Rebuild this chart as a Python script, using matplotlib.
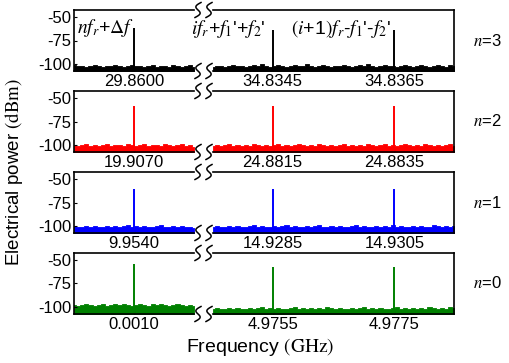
import numpy as np
import matplotlib.pyplot as plt
from matplotlib.lines import Line2D

plt.rcParams['font.family'] = ['Liberation Sans', 'DejaVu Sans']
plt.rcParams['mathtext.fontset'] = 'stix'
plt.rcParams['axes.unicode_minus'] = False

# centre frequencies (GHz) for each row, n=3 at top
left_ticks = [29.8600, 19.9070, 9.9540, 0.0010]
right_ticks = [[34.8345, 34.8365], [24.8815, 24.8835], [14.9285, 14.9305], [4.9755, 4.9775]]
row_labels = ['$n$=3', '$n$=2', '$n$=1', '$n$=0']
colors = ['black', 'red', 'blue', 'green']

# peak powers (dBm)
left_peaks = [-62, -59, -61, -55]
right_peaks = [[-64, -64], [-59, -59], [-61, -61], [-58, -58]]

# noise floor (dBm), left segment / right segment
left_noise = [
    [-101, -102, -102, -103, -102, -101, -102, -103, -102, -102, -101, -102, -103, -102, -101,
     -102, -102, -103, -102, -101, -103, -102, -102, -103, -101, -102, -103, -102, -101, -103],
    [-100, -101, -100, -99, -101, -100, -101, -100, -99, -101, -100, -100, -101, -99, -100,
     -101, -100, -99, -101, -100, -100, -101, -99, -100, -101, -100, -99, -101, -100, -102],
    [-100, -101, -101, -100, -101, -100, -101, -101, -100, -101, -100, -101, -100, -99, -101,
     -100, -101, -100, -101, -101, -100, -99, -101, -101, -100, -101, -100, -101, -101, -102],
    [-98, -99, -98, -97, -98, -99, -98, -97, -99, -98, -97, -98, -96, -98, -99,
     -98, -97, -98, -99, -97, -98, -96, -98, -99, -98, -97, -98, -99, -98, -99],
]
right_noise = [
    [-103, -102, -102, -103, -102, -101, -102, -102, -103, -102, -101, -102, -100, -102, -103,
     -102, -101, -102, -103, -102, -101, -102, -102, -100, -102, -103, -102, -101, -102, -103,
     -102, -102, -101, -102, -103, -102, -101, -102, -100, -102, -103, -102, -101, -102, -102,
     -103, -102, -101, -102, -103, -102, -101, -102, -103, -102, -101, -102, -103, -101, -102],
    [-101, -100, -101, -100, -99, -101, -100, -101, -100, -101, -99, -100, -101, -100, -101,
     -100, -99, -101, -100, -101, -100, -99, -100, -101, -100, -101, -99, -100, -101, -100,
     -101, -100, -99, -101, -100, -101, -100, -101, -99, -100, -101, -100, -99, -101, -100,
     -101, -100, -99, -100, -101, -100, -101, -99, -100, -101, -100, -101, -100, -99, -101],
    [-101, -100, -101, -101, -100, -101, -100, -101, -101, -100, -99, -101, -100, -101, -101,
     -100, -101, -100, -99, -101, -100, -101, -101, -100, -101, -100, -99, -101, -101, -100,
     -101, -100, -101, -101, -100, -99, -101, -100, -101, -101, -100, -101, -100, -101, -99,
     -101, -100, -101, -101, -100, -101, -100, -101, -101, -99, -100, -101, -100, -101, -100],
    [-102, -101, -102, -102, -101, -102, -101, -102, -102, -101, -102, -101, -100, -102, -101,
     -102, -101, -102, -102, -101, -100, -102, -101, -102, -101, -102, -101, -102, -100, -101,
     -102, -101, -102, -102, -101, -102, -101, -100, -102, -101, -102, -101, -102, -102, -101,
     -100, -102, -101, -102, -101, -102, -101, -102, -100, -101, -102, -101, -102, -100, -101],
]

annotations = [r'$nf_r$+$\Delta f$', r"$if_r$+$f_1$'+$f_2$'", r"$(i$+1$)f_r$-$f_1$'-$f_2$'"]

ylo, yhi = -107, -43
W, H = 510, 363
fig = plt.figure(figsize=(W / 100, H / 100), dpi=100)

xl0, xl1 = 74, 194      # left segment (px)
xr0, xr1 = 213, 454     # right segment (px)
row_top = [10, 91, 172, 253]
row_h = 61

left_half = 0.00099
right_pad = 0.00098


def fig_box(x0, x1, top):
    return [x0 / W, 1 - (top + row_h) / H, (x1 - x0) / W, row_h / H]


def wiggle(xc, yc):
    t = np.linspace(0, 1, 40)
    x = xc + 6 * (t - 0.5) + 3.5 * np.sin(2 * np.pi * t)
    y = yc - 15 * (t - 0.5)
    return x / W, 1 - y / H


for r in range(4):
    c = colors[r]
    axl = fig.add_axes(fig_box(xl0, xl1, row_top[r]))
    axr = fig.add_axes(fig_box(xr0, xr1, row_top[r]))

    # left segment
    fl = np.linspace(left_ticks[r] - left_half, left_ticks[r] + left_half, len(left_noise[r]))
    axl.fill_between(fl, ylo, left_noise[r], step='mid', color=c, lw=0.6)
    axl.vlines(left_ticks[r], ylo, left_peaks[r], color=c, lw=1.4)
    axl.set_xlim(fl[0], fl[-1])

    # right segment
    a, b = right_ticks[r]
    fr = np.linspace(a - right_pad, b + right_pad, len(right_noise[r]))
    axr.fill_between(fr, ylo, right_noise[r], step='mid', color=c, lw=0.6)
    axr.vlines([a, b], ylo, right_peaks[r], color=c, lw=1.4)
    axr.set_xlim(fr[0], fr[-1])

    for ax in (axl, axr):
        ax.set_ylim(ylo, yhi)
        ax.set_facecolor('none')
        for s in ax.spines.values():
            s.set_linewidth(1.2)
        ax.tick_params(direction='in', length=2, labelsize=12, pad=2)

    axl.spines['right'].set_visible(False)
    axr.spines['left'].set_visible(False)
    axl.set_yticks([-50, -75, -100])
    axl.set_xticks([left_ticks[r]])
    axl.set_xticklabels(['%.4f' % left_ticks[r]])
    axr.set_yticks([])
    axr.set_xticks([a, b])
    axr.set_xticklabels(['%.4f' % a, '%.4f' % b])

    # break marks at top and bottom of the gap
    for yy in (row_top[r], row_top[r] + row_h):
        for xc in (198, 209):
            x, y = wiggle(xc, yy)
            fig.add_artist(Line2D(x, y, color='black', lw=1.1))

    fig.text(487 / W, 1 - (row_top[r] + row_h / 2) / H, row_labels[r],
             ha='center', va='center', fontsize=12)

    if r == 0:
        fig.text(77 / W, 1 - 28 / H, annotations[0], fontsize=14, va='center')
        fig.text(191 / W, 1 - 29 / H, annotations[1], fontsize=14, va='center')
        fig.text(291 / W, 1 - 29 / H, annotations[2], fontsize=14, va='center')

fig.text(14 / W, 1 - 172 / H, r'Electrical power $\mathrm{(dBm)}$', rotation=90,
         ha='center', va='center', fontsize=13.5)
fig.text(260 / W, 1 - 347 / H, r'Frequency $\mathrm{(GHz)}$',
         ha='center', va='center', fontsize=14)

fig.savefig('out.png', dpi=100)
